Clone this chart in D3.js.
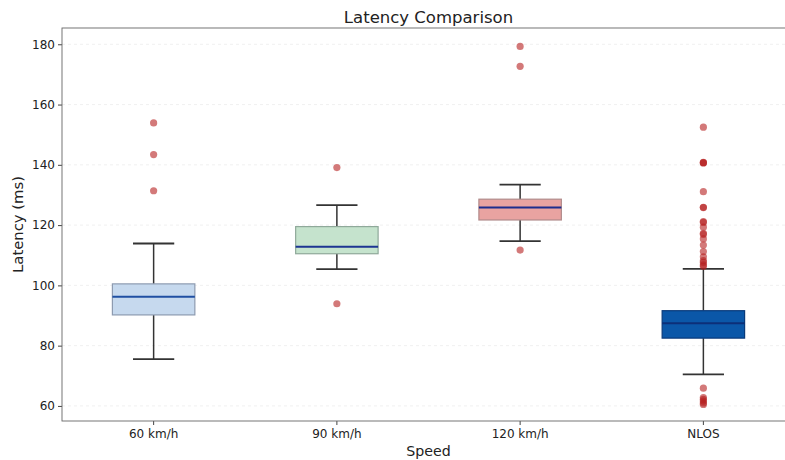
<!DOCTYPE html>
<html>
<head>
<meta charset="utf-8">
<script src="https://cdn.jsdelivr.net/npm/d3@7"></script>
<style>
  html, body { margin: 0; padding: 0; background: #fff; }
  svg { display: block; font-family: "DejaVu Sans", sans-serif; }
</style>
</head>
<body>
<svg id="chart" width="785" height="460"></svg>
<script>
// ---- data ----
const categories = ["60 km/h", "90 km/h", "120 km/h", "NLOS"];
const whiskerLow  = [75.5, 105.4, 114.7, 70.5];
const q1          = [90.2, 110.5, 121.7, 82.5];
const medians     = [96.2, 112.8, 125.8, 87.4];
const q3          = [100.5, 119.5, 128.6, 91.6];
const whiskerHigh = [113.9, 126.6, 133.4, 105.5];
const outliers60  = [153.9, 143.4, 131.4];
const outliers90  = [139.1, 93.9];
const outliers120 = [179.3, 172.7, 111.7];
const outliersNLOS = [152.5, 140.7, 140.8, 140.6, 131.1, 125.9, 125.8, 121.2, 120.9, 119.3, 117.3, 116.9,
                      115.4, 113.4, 111.2, 109.5, 108.2, 107.6, 106.8, 106.3,
                      65.9, 62.8, 62.2, 61.6, 61.0, 60.5];
const yTicks = [60, 80, 100, 120, 140, 160, 180];

const outlierSets = [outliers60, outliers90, outliers120, outliersNLOS];
const fills   = ["#c6d9ee", "#c5e3cd", "#e9a3a1", "#0b57a8"];
const edges   = ["#8d9bb0", "#8fa99a", "#b08a8a", "#0a3a7a"];
const medCols = ["#1f4fa2", "#1d3592", "#1d2d8e", "#0d2f78"];

// ---- layout ----
const svg = d3.select("#chart");
const L = 62, R = 795, T = 28, B = 421;

const x = d3.scaleBand().domain(categories).range([L, R]).padding(0);
const y = d3.scaleLinear().domain([55, 185.4]).range([B, T]);

const bw = x.bandwidth() * 0.45;
const cw = bw * 0.5;

// grid
svg.append("g").selectAll("line").data(yTicks).join("line")
  .attr("x1", L).attr("x2", R)
  .attr("y1", d => y(d)).attr("y2", d => y(d))
  .attr("stroke", "#ececec").attr("stroke-width", 0.8)
  .attr("stroke-dasharray", "3,3");

// axes
const yAxis = d3.axisLeft(y).tickValues(yTicks).tickSize(4).tickPadding(3);
const gy = svg.append("g").attr("transform", `translate(${L},0)`).call(yAxis);
gy.select(".domain").remove();
gy.selectAll("line").attr("stroke", "#444");
gy.selectAll("text").attr("font-size", 12).attr("fill", "#222").attr("font-family", "DejaVu Sans");

const xAxis = d3.axisBottom(x).tickSize(4).tickPadding(4);
const gx = svg.append("g").attr("transform", `translate(0,${B})`).call(xAxis);
gx.select(".domain").remove();
gx.selectAll("line").attr("stroke", "#444");
gx.selectAll("text").attr("font-size", 12).attr("fill", "#222").attr("font-family", "DejaVu Sans");

// spines
svg.append("rect").attr("x", L).attr("y", T).attr("width", R - L).attr("height", B - T)
  .attr("fill", "none").attr("stroke", "#666").attr("stroke-width", 0.9);

// boxes
const data = categories.map((c, i) => ({
  c, i, lo: whiskerLow[i], q1: q1[i], med: medians[i], q3: q3[i], hi: whiskerHigh[i], out: outlierSets[i]
}));

const g = svg.append("g");
data.forEach(d => {
  const cx = x(d.c) + x.bandwidth() / 2;
  g.append("line").attr("x1", cx).attr("x2", cx).attr("y1", y(d.q3)).attr("y2", y(d.hi))
    .attr("stroke", "#333").attr("stroke-width", 1.5);
  g.append("line").attr("x1", cx).attr("x2", cx).attr("y1", y(d.q1)).attr("y2", y(d.lo))
    .attr("stroke", "#333").attr("stroke-width", 1.5);
  [d.hi, d.lo].forEach(v => {
    g.append("line").attr("x1", cx - cw / 2).attr("x2", cx + cw / 2).attr("y1", y(v)).attr("y2", y(v))
      .attr("stroke", "#333").attr("stroke-width", 1.8);
  });
  g.append("rect").attr("x", cx - bw / 2).attr("width", bw)
    .attr("y", y(d.q3)).attr("height", y(d.q1) - y(d.q3))
    .attr("fill", fills[d.i]).attr("stroke", edges[d.i]).attr("stroke-width", 1.2);
  g.append("line").attr("x1", cx - bw / 2).attr("x2", cx + bw / 2)
    .attr("y1", y(d.med)).attr("y2", y(d.med))
    .attr("stroke", medCols[d.i]).attr("stroke-width", 2);
  g.append("g").selectAll("circle").data(d.out).join("circle")
    .attr("cx", cx).attr("cy", v => y(v)).attr("r", 3.6)
    .attr("fill", "#b52020").attr("fill-opacity", 0.6).attr("stroke", "none");
});

// title and labels
svg.append("text").attr("x", (L + R) / 2).attr("y", 23).attr("text-anchor", "middle")
  .attr("font-size", 16.5).attr("fill", "#222").text("Latency Comparison");
svg.append("text").attr("x", (L + R) / 2).attr("y", 456).attr("text-anchor", "middle")
  .attr("font-size", 14.2).attr("fill", "#222").text("Speed");
svg.append("text").attr("transform", `translate(23,${(T + B) / 2}) rotate(-90)`)
  .attr("text-anchor", "middle").attr("font-size", 14.8).attr("fill", "#222").text("Latency (ms)");
</script>
</body>
</html>
